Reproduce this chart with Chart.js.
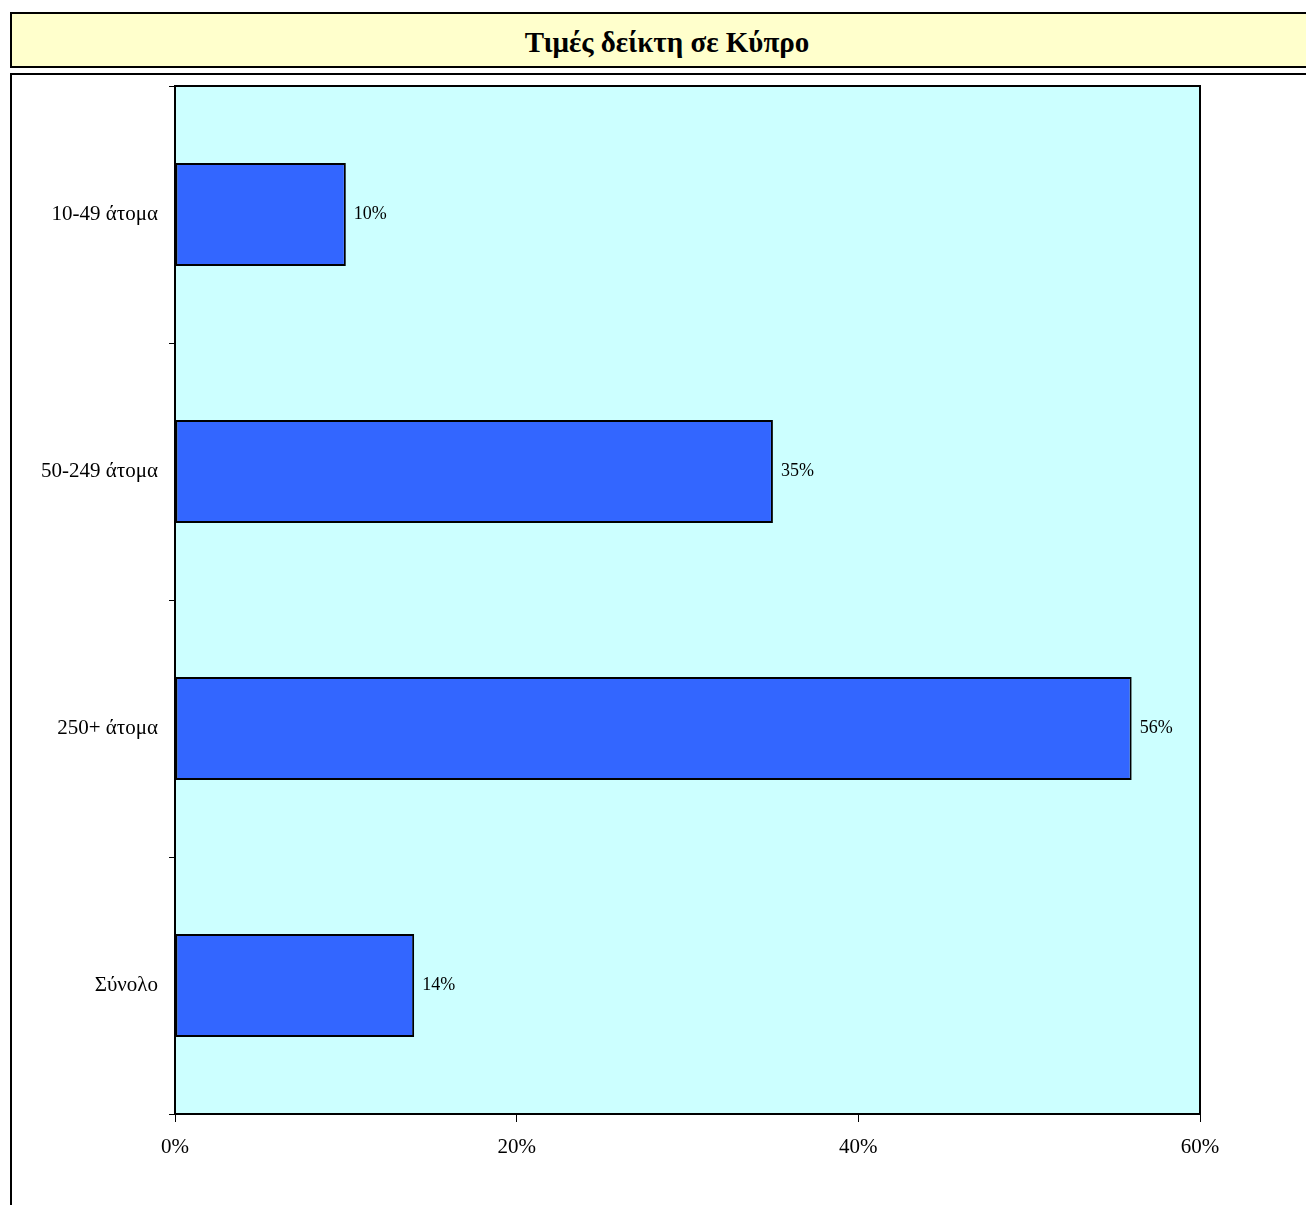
<!DOCTYPE html>
<html>
<head>
<meta charset="utf-8">
<script src="https://cdn.jsdelivr.net/npm/chart.js@4/dist/chart.umd.min.js"></script>
<style>
  html, body { margin: 0; padding: 0; overflow: hidden; background: #fff; }
  body { width: 1306px; height: 1205px; position: relative; }
  #title {
    position: absolute; left: 10px; top: 12px; width: 1310px; height: 52px;
    background: #FFFFCC; border: 2px solid #000;
    font-family: "Liberation Serif", "Times New Roman", serif; font-weight: bold; font-size: 29px;
    text-align: center; line-height: 56px;
  }
  #frame {
    position: absolute; left: 10px; top: 73px; width: 1310px; height: 1200px;
    border: 2px solid #000; background: #fff;
  }
  #wrap { position: absolute; left: 0; top: 0; width: 1306px; height: 1205px; }
</style>
</head>
<body>
<div id="title">Τιμές δείκτη σε Κύπρο</div>
<div id="frame"></div>
<div id="wrap"><canvas id="chart"></canvas></div>
<script>
document.addEventListener('DOMContentLoaded', function() {
    // Chart data
    const categories = ['10-49 άτομα', '50-249 άτομα', '250+ άτομα', 'Σύνολο'];
    const values = [10, 35, 56, 14];
    const xTicks = [0, 20, 40, 60];

    const serif = '"Liberation Serif", "Times New Roman", serif';

    // Plot area fill + border
    const plotArea = {
        id: 'plotArea',
        beforeDraw(chart) {
            const { ctx, chartArea: a } = chart;
            ctx.save();
            ctx.fillStyle = '#CCFFFF';
            ctx.fillRect(a.left, a.top, a.right - a.left, a.bottom - a.top);
            ctx.restore();
        },
        afterDatasetsDraw(chart) {
            const { ctx, chartArea: a } = chart;
            ctx.save();
            ctx.strokeStyle = '#000';
            ctx.lineWidth = 2;
            ctx.strokeRect(a.left, a.top, a.right - a.left, a.bottom - a.top);
            ctx.restore();
        }
    };

    // Value labels right of each bar
    const valueLabels = {
        id: 'valueLabels',
        afterDatasetsDraw(chart) {
            const { ctx } = chart;
            const meta = chart.getDatasetMeta(0);
            ctx.save();
            ctx.font = '18px ' + serif;
            ctx.fillStyle = '#000';
            ctx.textAlign = 'left';
            ctx.textBaseline = 'middle';
            meta.data.forEach((bar, i) => {
                ctx.fillText(values[i] + '%', bar.x + 8, bar.y);
            });
            ctx.restore();
        }
    };

    const ctx = document.getElementById('chart').getContext('2d');
    new Chart(ctx, {
        type: 'bar',
        data: {
            labels: categories,
            datasets: [{
                data: values,
                backgroundColor: '#3366FF',
                borderColor: '#000',
                borderWidth: 2,
                borderSkipped: false,
                categoryPercentage: 1,
                barPercentage: 0.4
            }]
        },
        options: {
            indexAxis: 'y',
            responsive: true,
            maintainAspectRatio: false,
            animation: false,
            layout: { padding: { left: 0, top: 86, right: 106, bottom: 0 } },
            scales: {
                x: {
                    min: 0,
                    max: 60,
                    afterBuildTicks(axis) {
                        axis.ticks = xTicks.map(v => ({ value: v }));
                    },
                    afterFit(axis) { axis.height = 91; },
                    grid: {
                        drawOnChartArea: false,
                        tickLength: 8,
                        color: '#000',
                        tickColor: '#000'
                    },
                    border: { display: false },
                    ticks: {
                        color: '#000',
                        font: { family: serif, size: 21 },
                        padding: 13,
                        maxRotation: 0,
                        callback: v => v + '%'
                    }
                },
                y: {
                    afterFit(axis) { axis.width = 175; },
                    grid: {
                        drawOnChartArea: false,
                        offset: true,
                        tickLength: 6,
                        color: '#000',
                        tickColor: '#000'
                    },
                    border: { display: false },
                    ticks: {
                        color: '#000',
                        font: { family: serif, size: 21 },
                        padding: 11
                    }
                }
            },
            plugins: {
                legend: { display: false },
                tooltip: { enabled: false }
            }
        },
        plugins: [plotArea, valueLabels]
    });
});
</script>
</body>
</html>
